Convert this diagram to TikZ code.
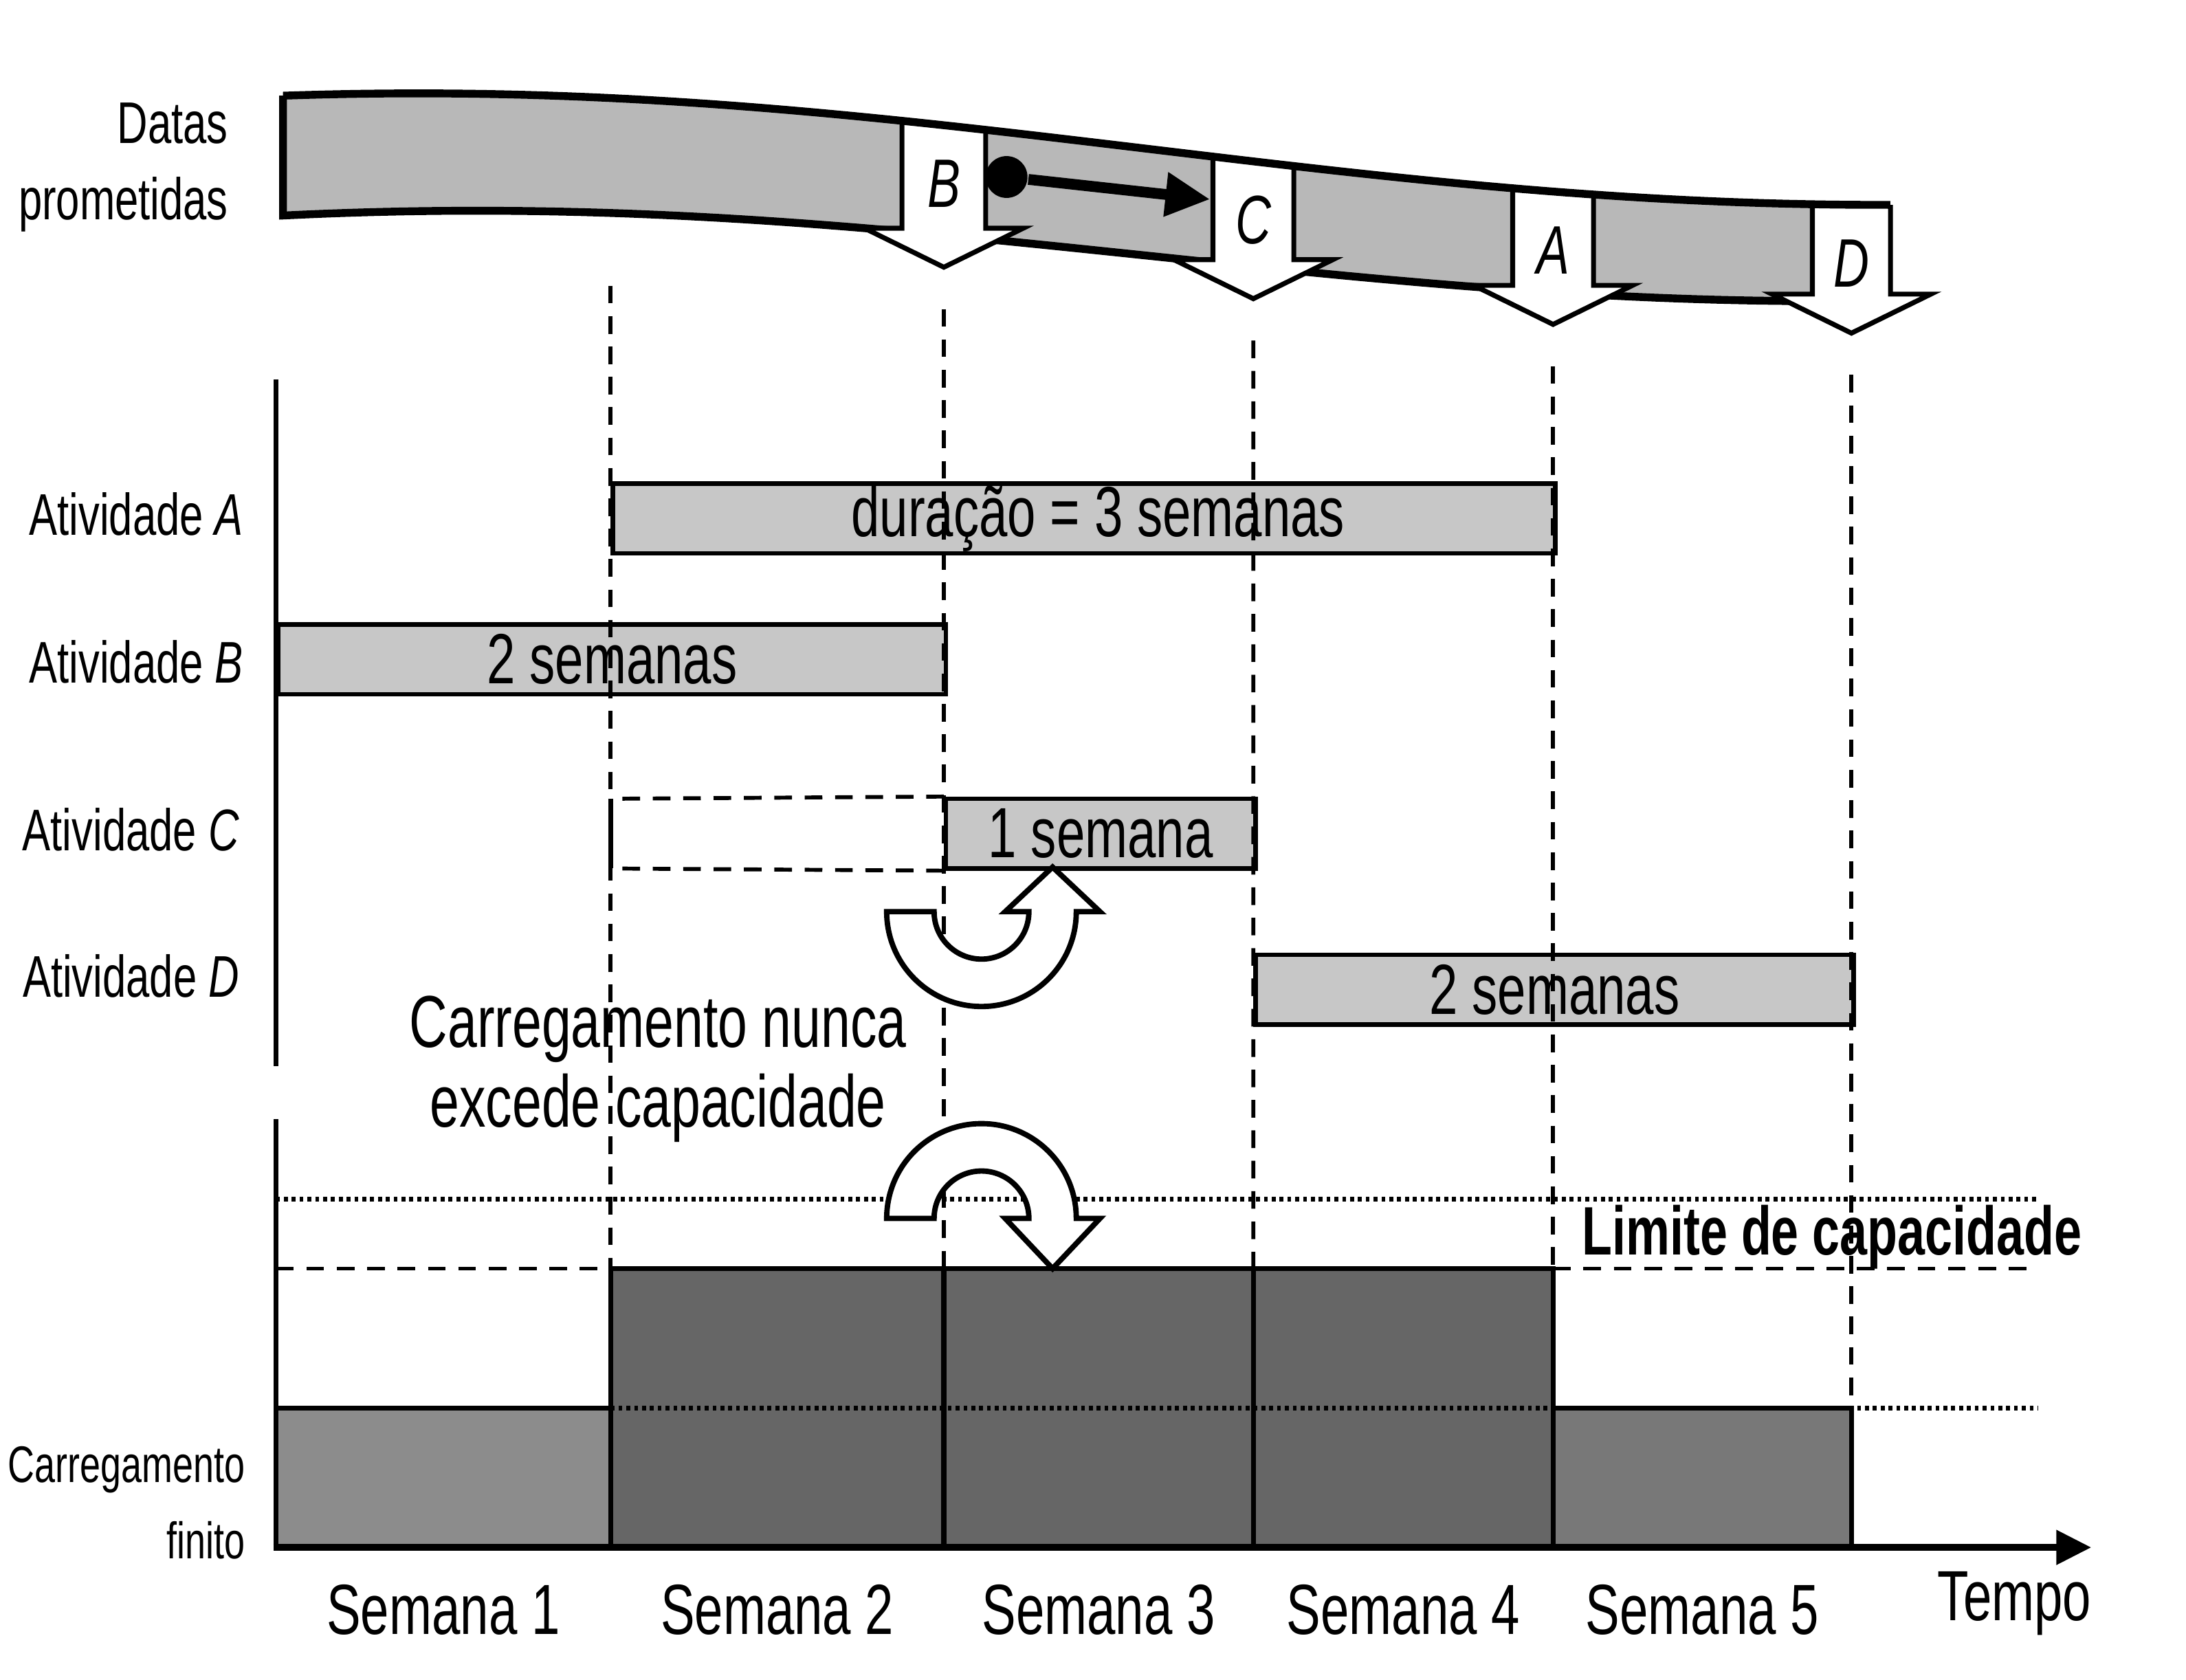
\documentclass[tikz,border=0pt]{standalone}
\usepackage{fontspec}
\setmainfont{Liberation Sans}[FakeStretch=0.72]
\usetikzlibrary{arrows.meta}

\tikzset{
  band/.style={fill=black!28},
  bandedge/.style={line width=1.6pt},
  datebox/.style={line width=1pt, line join=miter},
  datelabel/.style={font=\fontsize{14}{16}\selectfont\itshape},
  actbar/.style={draw, line width=0.9pt, fill=black!22, inner sep=0pt, minimum height=0.5cm,
    anchor=west, font=\fontsize{14.5}{17}\selectfont},
  week/.style={line width=0.8pt, dash pattern=on 3.6pt off 2.6pt},
  dotline/.style={line width=1pt, dash pattern=on 0.8pt off 0.8pt},
  load/.style={draw, line width=1pt},
  turn/.style={draw, fill=white, line width=1.1pt},
  rowlabel/.style={anchor=east, align=right, font=\fontsize{12}{15.5}\selectfont},
  weeklabel/.style={font=\fontsize{14.5}{17}\selectfont},
}

\begin{document}
\begin{tikzpicture}[declare function={ytop(\x)=10.98+0.4*cos((\x-3)*17.143); th(\x)=0.86-0.015*(\x-2);}]
\useasboundingbox (0,0) rectangle (15.68,12.05);

% ribbon of promised dates
\fill[band] plot[domain=2.03:13.56,samples=80] (\x,{ytop(\x)})
  -- plot[domain=13.56:2.03,samples=80] (\x,{ytop(\x)-th(\x)}) -- cycle;
\draw[bandedge] (2.03,{ytop(2.03)}) -- (2.03,{ytop(2.03)-th(2.03)})
  -- plot[domain=2.03:13.3,samples=80] (\x,{ytop(\x)-th(\x)});

\foreach \xl/\xr/\lab in {6.47/7.07/B, 8.70/9.28/C, 10.85/11.43/A, 13.00/13.56/D}{
  \pgfmathsetmacro\xc{(\xl+\xr)/2}
  \pgfmathsetmacro\ys{ytop(\xc)-th(\xc)+0.05}
  \pgfmathsetmacro\yl{ytop(\xl)}
  \pgfmathsetmacro\yr{ytop(\xr)}
  \fill[white] (\xl,{\yl+0.1}) -- (\xl,\ys) -- ({\xc-0.57},\ys) -- (\xc,{\ys-0.28})
    -- ({\xc+0.57},\ys) -- (\xr,\ys) -- (\xr,{\yr+0.1}) -- cycle;
  \draw[datebox] (\xl,\yl) -- (\xl,\ys) -- ({\xc-0.57},\ys) -- (\xc,{\ys-0.28})
    -- ({\xc+0.57},\ys) -- (\xr,\ys) -- (\xr,\yr);
  \coordinate (t\lab) at (\xc,{\ys-0.28});
  \node[datelabel] (m\lab) at (\xc,{ytop(\xc)-0.42}) {\lab};
}
\draw[bandedge] plot[domain=2.03:13.56,samples=80] (\x,{ytop(\x)});

\node[circle, fill, inner sep=0pt, minimum size=0.3cm] (bdot) at (7.22,10.78) {};
\coordinate (bend) at (8.68,10.62);
\draw[line width=2.2pt, -{Triangle[length=0.32cm,width=0.3cm]}] (bdot) -- (bend);

% activities
\draw[line width=0.9pt] (1.98,9.33) -- (1.98,4.40);
\node[actbar, minimum width=6.76cm] (barA) at (4.38,8.33) {\hspace*{2mm}duração = 3 semanas};
\node[actbar, minimum width=4.79cm] (barB) at (1.98,7.32) {2 semanas};
\node[actbar, minimum width=2.22cm] (barC) at (6.77,6.07) {1 semana};
\node[actbar, minimum width=4.29cm] (barD) at (8.99,4.95) {2 semanas};
\coordinate (cw1) at (4.38,6.32);
\coordinate (cw2) at (4.38,5.82);
\draw[week] (barC.north west) -- (cw1);
\draw[week] (barC.south west) -- (cw2);
\draw[line width=0.9pt] (cw1) -- (cw2);

% finite loading
\filldraw[load, fill=black!45] (1.98,0.95) rectangle (4.38,1.95);
\filldraw[load, fill=black!60] (4.38,0.95) rectangle (11.14,2.95);
\draw[load] (6.77,0.95) -- (6.77,2.95) (8.99,0.95) -- (8.99,2.95);
\filldraw[load, fill=black!53] (11.14,0.95) rectangle (13.28,1.95);
\draw[dotline] (1.98,3.45) -- (14.62,3.45);
\draw[dotline] (4.38,1.95) -- (14.62,1.95);
\draw[week] (1.98,2.95) -- (4.38,2.95);
\draw[week] (11.14,2.95) -- (14.62,2.95);

% week lines
\draw[week] (4.38,10.00) -- (4.38,2.95);
\draw[week] ([yshift=-3mm]tB) -- (6.77,2.95);
\draw[week] ([yshift=-3mm]tC) -- (8.99,2.95);
\draw[week] ([yshift=-3mm]tA) -- (11.14,2.95);
\draw[week] ([yshift=-3mm]tD) -- (13.28,1.95);

\draw[line width=0.9pt] (1.98,4.02) -- (1.98,0.95);
\draw[line width=1.3pt, -{Triangle[length=0.25cm,width=0.24cm]}] (1.96,0.95) -- (15.0,0.95);

% turning arrows
\draw[turn] (6.36,5.51) arc[start angle=180,end angle=360,radius=0.68] -- (7.89,5.51)
  -- (7.55,5.83) -- (7.21,5.51) -- (7.38,5.51) arc[start angle=0,end angle=-180,radius=0.34] -- cycle;
\draw[turn] (6.36,3.31) arc[start angle=180,end angle=0,radius=0.68] -- (7.89,3.31)
  -- (7.55,2.95) -- (7.21,3.31) -- (7.38,3.31) arc[start angle=0,end angle=180,radius=0.34] -- cycle;

% labels
\node[rowlabel] (ldates) at (1.76,10.85) {Datas\\prometidas};
\node[rowlabel] (lA) at (1.87,8.36) {Atividade \textit{A}};
\node[rowlabel] (lB) at (1.87,7.30) {Atividade \textit{B}};
\node[rowlabel] (lC) at (1.84,6.10) {Atividade \textit{C}};
\node[rowlabel] (lD) at (1.84,5.05) {Atividade \textit{D}};
\node[rowlabel, font=\fontsize{10.5}{15.5}\selectfont] (lload) at (1.88,1.27) {Carregamento\\finito};
\node[align=center, font=\fontsize{15}{16.3}\selectfont] (nnote) at (4.72,4.38)
  {Carregamento nunca\\excede capacidade};
\node[anchor=base, font=\fontsize{14}{16}\selectfont\bfseries] (lcap) at (13.14,3.05) {Limite de capacidade};
\foreach \n/\x in {1/3.18, 2/5.575, 3/7.88, 4/10.065, 5/12.21}
  \node[weeklabel] (s\n) at (\x,0.50) {Semana \n};
\node[weeklabel] (ltime) at (14.45,0.55) {Tempo};
\end{tikzpicture}
\end{document}
